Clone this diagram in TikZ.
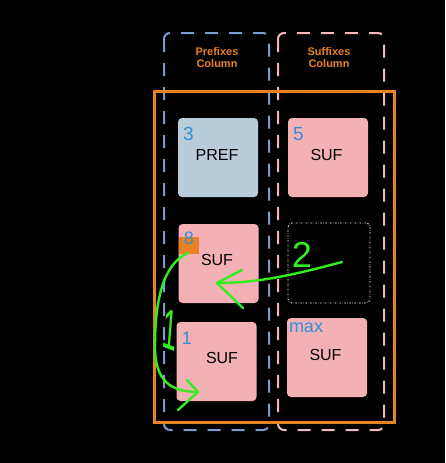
\documentclass[tikz,border=0pt]{standalone}
\usepackage{fontspec}
\setmainfont{Liberation Sans}
\definecolor{colblue}{HTML}{7E9CCB}
\definecolor{colpink}{HTML}{F2B9BA}
\definecolor{colorange}{HTML}{E98224}
\definecolor{preffill}{HTML}{B9CCD9}
\definecolor{suffill}{HTML}{F4B1B5}
\definecolor{numblue}{HTML}{2F8ED6}
\definecolor{pengreen}{HTML}{33EE1E}
\tikzset{
  cell/.style={rounded corners=4pt, minimum width=80pt, minimum height=79pt, inner sep=0pt},
  prefcell/.style={cell, fill=preffill},
  sufcell/.style={cell, fill=suffill},
  celltext/.style={font=\fontsize{16}{18}\selectfont, inner sep=0pt},
  num/.style={text=numblue, font=\fontsize{19}{21}\selectfont, inner sep=0pt},
  colhead/.style={text=colorange, font=\bfseries\fontsize{11}{12}\selectfont, align=center},
  pen/.style={draw=pengreen, line width=2.4pt, line cap=round, line join=round},
  colframe/.style={line width=2pt, dash pattern=on 13pt off 11pt, rounded corners=6pt}
}
\begin{document}
\begin{tikzpicture}[x=1pt,y=-1pt]
\fill[black] (0,0) rectangle (445,463);
\useasboundingbox (0,0) rectangle (445,463);
% columns
\draw[colframe,colblue] (164,33) rectangle (269,430);
\draw[colframe,colpink] (278,33) rectangle (384,430);
\node[colhead] (prefhead) at (217,58) {Prefixes\\Column};
\node[colhead] (sufhead) at (329,58) {Suffixes\\Column};
\draw[colorange,line width=3pt] (154,91) rectangle (394,422);
% cells
\node[prefcell] (b3) at (218,157.5) {};
\node[celltext] (t3) at (217,155) {PREF};
\node[num] (n3) at (188.5,134) {3};
\node[sufcell] (b5) at (328,157.5) {};
\node[celltext] (t5) at (326.5,155) {SUF};
\node[num] (n5) at (298.5,134) {5};
\node[draw=white, line width=0.8pt, dash pattern=on 1.5pt off 1.5pt on 0.4pt off 1.5pt,
      rounded corners=4pt, minimum width=82pt, minimum height=80pt] (gap) at (329,263) {};
\node[sufcell] (b8) at (218.5,263.5) {};
\node[celltext] (t8) at (217,260) {SUF};
\node[fill=colorange, minimum width=20pt, minimum height=17pt, inner sep=0pt] (badge) at (189,245.5) {};
\node[num,font=\fontsize{18}{20}\selectfont] (n8) at (189,238.5) {8};
\node[sufcell] (b1) at (216.5,361.5) {};
\node[celltext] (t1) at (222,358) {SUF};
\node[num,font=\fontsize{18}{20}\selectfont] (n1) at (187,338) {1};
\node[sufcell] (bmax) at (327,357.5) {};
\node[celltext] (tmax) at (325.5,355) {SUF};
\node[num,font=\fontsize{18}{20}\selectfont] (nmax) at (306,328) {max};
% green marks
\coordinate (s2) at (342,262);
\coordinate (tip2) at (217,283);
\draw[pen] (s2) .. controls (300,273) and (262,283) .. (tip2);
\draw[pen] (242,270) -- (tip2) -- (243,308);
\node[text=pengreen, font=\fontsize{36}{38}\selectfont, inner sep=0pt] (two) at (302,255) {2};
\coordinate (s1) at (188,253);
\coordinate (tip1) at (198,392);
\draw[pen] (s1) .. controls (163,264) and (155,300) .. (155,347)
  .. controls (155,380) and (170,392) .. (tip1);
\draw[pen] (187,380) -- (tip1) -- (178,410);
\node[text=pengreen, font=\fontsize{26}{28}\selectfont, yscale=2.2, rotate=-10, inner sep=0pt] (one) at (170,330) {1};
\end{tikzpicture}
\end{document}
